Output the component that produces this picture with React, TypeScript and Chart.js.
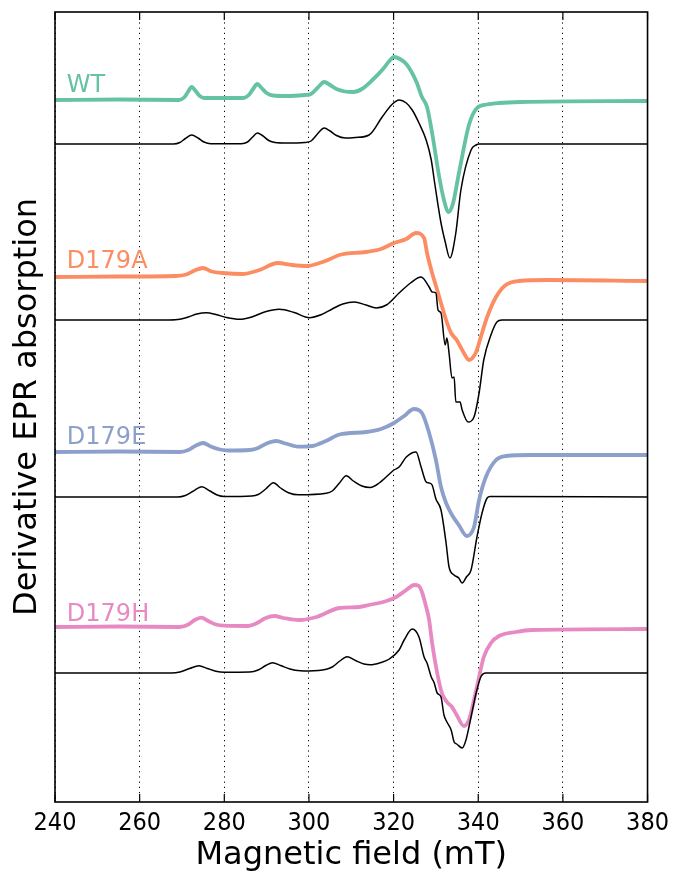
import { useEffect, useRef } from "react";
import { Chart, registerables } from "chart.js";

Chart.register(...registerables);

// Magnetic field (mT) vs. stacked derivative signal (arbitrary units, offset per sample)
const fieldMin = 240;
const fieldMax = 380;
const fieldStep = 20;
const signalMin = 0;
const signalMax = 790;

const sampleNames = ["WT", "D179A", "D179E", "D179H"];
const sampleColors = ["#66c2a5", "#fc8d62", "#8da0cb", "#e78ac3"];
const labelField = 242.8;
const labelSignal = [710, 534, 358, 181];

const wtExp: [number, number][] = [
  [240, 702], [255, 702.5], [269.3, 702], [270.5, 704.5], [271.4, 710], [272.3, 715], [273.2, 711],
  [274.2, 706], [275.3, 704], [279.6, 704], [284.5, 704], [285.8, 707], [286.8, 713], [287.8, 718],
  [288.8, 714], [290, 709], [291.5, 706.5], [294.7, 706], [299, 707], [300.5, 708], [302, 714],
  [303.6, 720], [305, 717], [306.5, 713], [308.5, 710.5], [310.5, 710], [312.5, 713], [315, 722],
  [317.5, 733], [319, 741], [320.1, 745], [321.5, 743], [323, 738], [324.5, 728], [325.5, 719],
  [326.7, 705], [327.9, 695], [329.1, 669], [330.7, 627], [331.9, 602], [333, 590], [334, 598],
  [335.4, 628], [337.8, 677], [339.7, 694], [342, 697.5], [344.9, 699], [350, 700], [380, 701],
];
const wtSim: [number, number][] = [
  [240, 658], [268, 658], [269.5, 659.5], [270.8, 663.5], [272.3, 667], [273.8, 664], [275.2, 660],
  [276.8, 658.3], [284, 658.3], [285.5, 660], [286.7, 665], [287.8, 669], [289, 666.5], [290.5, 661.5],
  [292, 659.5], [294.7, 659], [299, 659.5], [300.5, 661], [302, 668], [303.6, 674], [305, 671],
  [306.5, 666.5], [308.6, 664], [311, 664.5], [314.2, 667], [317.3, 685], [319.5, 697], [321.3, 702],
  [323, 699], [324.4, 692], [326, 679], [327.7, 662], [328.9, 642], [329.6, 622], [331.2, 579],
  [332.2, 560], [333.3, 544], [334.7, 569], [335.9, 612], [338.3, 652], [339.5, 657], [340.2, 658],
  [380, 658],
];
const d179aExp: [number, number][] = [
  [240, 525], [255, 525.5], [268.5, 526], [271, 527.5], [273, 531.5], [275, 534], [277, 530.5],
  [279.6, 529], [284.3, 528], [288.3, 532], [292.6, 539], [296, 537], [299.4, 536], [302.5, 539],
  [305, 543], [307.2, 547], [313.5, 550], [317, 553], [320.1, 559], [323, 563], [325.3, 569],
  [327.2, 564], [327.9, 549], [329.1, 529], [330.3, 512], [331.2, 499], [332.4, 482], [333.6, 469],
  [334.9, 462], [336.6, 449], [337.8, 442], [339.5, 450], [340.6, 465], [342.1, 485], [344.2, 505],
  [346.5, 517], [349.6, 521], [356.7, 522], [380, 521],
];
const d179aSim: [number, number][] = [
  [240, 482], [266, 482], [269, 482.5], [271.5, 485], [273.5, 488], [275.8, 489.3], [278, 487.5],
  [280.5, 484.5], [283.6, 482.7], [286.5, 485], [289.5, 490], [293, 492.7], [296.5, 489.5],
  [300.1, 484.3], [303, 487.5], [305.5, 493], [308, 498], [310.7, 500], [313.5, 497], [315.9, 494],
  [318.3, 497], [321.3, 509], [324, 519], [326.5, 525], [328.4, 515], [329.1, 510], [330, 509],
  [330.5, 492], [331.2, 489], [332.2, 457], [332.6, 464], [333.1, 449], [333.8, 424], [334.3, 425],
  [334.7, 400], [335.7, 400], [336.2, 392], [337.6, 380], [339, 385], [340.2, 409], [341.3, 442],
  [343, 467], [344.4, 480], [345.6, 482], [380, 482],
];
const d179eExp: [number, number][] = [
  [240, 350], [255, 350.5], [269.5, 350], [271.5, 352], [273.3, 356.5], [275, 359], [276.8, 355.5],
  [279, 352.5], [281, 351.5], [286, 352], [288, 354], [290, 358.5], [292.3, 361], [294.5, 358.5],
  [297.7, 355.3], [300.8, 356], [304, 361], [307.2, 367.5], [313.5, 370], [317, 373], [320.1, 379],
  [322.5, 386], [324.8, 393], [326.7, 389], [328.4, 369], [330, 342], [331.2, 315], [332.4, 299],
  [333.8, 287], [335.4, 277], [337.3, 266], [339, 275], [340.2, 302], [341.8, 325], [344.2, 342],
  [346.5, 346], [352.7, 347], [380, 347],
];
const d179eSim: [number, number][] = [
  [240, 305], [269, 305], [270.8, 306.5], [272.5, 310.5], [274.7, 315.3], [276.6, 311], [278.3, 307],
  [280, 305.5], [286.5, 306], [288, 307.5], [289.8, 313], [291.6, 319.3], [293.3, 314], [295.3, 309],
  [297.5, 307.2], [304.1, 308.7], [305.5, 311], [307.2, 319], [308.8, 326.3], [310.5, 321],
  [312.5, 316], [314.5, 314.5], [316.6, 319], [320.1, 332], [321.3, 335], [323, 345], [325.3, 350],
  [326.5, 335], [327.7, 320], [328.4, 319], [329.1, 317], [330, 303], [331.2, 292], [332.4, 259],
  [333.1, 235], [334.3, 227], [335.4, 224], [336.2, 219], [337.2, 225], [338.3, 232], [339.7, 265],
  [340.9, 289], [342.1, 304], [342.8, 305.5], [380, 305],
];
const d179hExp: [number, number][] = [
  [240, 175], [255, 175.5], [269.5, 175], [271.5, 177.5], [273, 182], [274.6, 184.3], [276.2, 181],
  [278, 177.5], [280, 176.3], [285.5, 176], [287.5, 178.5], [289.8, 184], [291.8, 186], [294, 184],
  [297.7, 182], [301.8, 185], [307.2, 194], [311.9, 195], [314.2, 197], [318.3, 201], [320.6, 205],
  [323, 212], [324.9, 217], [326, 216], [326.7, 210], [327.7, 195], [328.4, 182], [329.1, 159],
  [330.3, 129], [331.4, 109], [332.6, 100], [333.8, 95], [334.9, 87], [336.6, 76], [337.8, 82],
  [339, 102], [340.2, 125], [341.3, 145], [343, 159], [344.9, 166], [348.9, 170], [352.7, 172],
  [380, 173],
];
const d179hSim: [number, number][] = [
  [240, 129], [267.5, 129], [269.5, 130], [271.8, 133.5], [274, 136.3], [276, 133.5], [278, 130.8],
  [280, 129.8], [286, 130], [288, 132], [289.8, 136.5], [291.4, 139.3], [293.3, 136.5], [295.5, 133],
  [298, 131.2], [300, 131], [304.1, 132.7], [305.5, 135], [307.3, 141], [309, 145.3], [311, 141.5],
  [313, 138], [314.5, 137.2], [317, 139.5], [319, 143], [321.3, 152], [322.5, 162], [324.4, 173],
  [326, 165], [327.2, 145], [327.9, 139], [328.9, 125], [329.6, 119], [330.3, 109], [331.2, 105],
  [331.9, 87], [332.6, 80], [333.6, 72], [334.3, 60], [334.9, 58], [336.2, 54], [337.1, 62],
  [338.3, 85], [339.5, 109], [340.6, 125], [341.8, 129], [380, 129],
];

const experimental = [wtExp, d179aExp, d179eExp, d179hExp];
const simulated = [wtSim, d179aSim, d179eSim, d179hSim];

const FONT = "'DejaVu Sans', sans-serif";

const framePlugin = {
  id: "frameAndLabels",
  afterDraw(chart: any) {
    const { ctx, chartArea } = chart;
    const xs = chart.scales.x;
    const ys = chart.scales.y;
    ctx.save();
    ctx.strokeStyle = "#000";
    ctx.lineWidth = 1.2;
    for (let v = fieldMin; v <= fieldMax; v += fieldStep) {
      const px = xs.getPixelForValue(v);
      ctx.beginPath();
      ctx.moveTo(px, chartArea.bottom);
      ctx.lineTo(px, chartArea.bottom - 8);
      ctx.moveTo(px, chartArea.top);
      ctx.lineTo(px, chartArea.top + 8);
      ctx.stroke();
    }
    ctx.lineWidth = 1.6;
    ctx.strokeRect(chartArea.left, chartArea.top, chartArea.right - chartArea.left, chartArea.bottom - chartArea.top);
    ctx.font = `24px ${FONT}`;
    ctx.textAlign = "left";
    ctx.textBaseline = "alphabetic";
    sampleNames.forEach((name, i) => {
      ctx.fillStyle = sampleColors[i];
      ctx.fillText(name, xs.getPixelForValue(labelField), ys.getPixelForValue(labelSignal[i]));
    });
    ctx.restore();
  },
};

export default function App() {
  const ref = useRef<HTMLCanvasElement | null>(null);
  useEffect(() => {
    if (!ref.current) return;
    const datasets: any[] = [];
    experimental.forEach((series, i) => {
      datasets.push({
        label: sampleNames[i] + " experiment",
        data: series.map(([x, y]) => ({ x, y })),
        borderColor: sampleColors[i],
        borderWidth: 3.8,
        pointRadius: 0,
        cubicInterpolationMode: "monotone",
        fill: false,
        order: 1,
      });
    });
    simulated.forEach((series, i) => {
      datasets.push({
        label: sampleNames[i] + " simulation",
        data: series.map(([x, y]) => ({ x, y })),
        borderColor: "#000000",
        borderWidth: 1.5,
        pointRadius: 0,
        cubicInterpolationMode: "monotone",
        fill: false,
        order: 0,
      });
    });
    const chart = new Chart(ref.current, {
      type: "line",
      data: { datasets },
      plugins: [framePlugin],
      options: {
        animation: false,
        responsive: false,
        layout: { padding: { top: 12, right: 26, left: 0, bottom: 0 } },
        plugins: { legend: { display: false }, tooltip: { enabled: false } },
        scales: {
          x: {
            type: "linear",
            min: fieldMin,
            max: fieldMax,
            afterFit: (s: any) => { s.height = 73; },
            ticks: {
              stepSize: fieldStep,
              color: "#000",
              padding: 6,
              font: { family: "'DejaVu Sans Condensed', 'DejaVu Sans', sans-serif", size: 25 },
              maxRotation: 0,
              autoSkip: false,
            },
            grid: { color: "#000", lineWidth: 1, drawTicks: false },
            border: { display: false, dash: [1.2, 4] },
            title: {
              display: true,
              text: "Magnetic field (mT)",
              color: "#000",
              font: { family: FONT, size: 32 },
              padding: { top: 0, bottom: 0 },
            },
          },
          y: {
            min: signalMin,
            max: signalMax,
            afterFit: (s: any) => { s.width = 55; },
            ticks: { display: false },
            grid: { display: false, drawTicks: false },
            border: { display: false },
            title: {
              display: true,
              text: "Derivative EPR absorption",
              color: "#000",
              font: { family: FONT, size: 32 },
              padding: { top: 8, bottom: 0 },
            },
          },
        },
      } as any,
    });
    return () => chart.destroy();
  }, []);
  return (
    <div style={{ position: "absolute", left: 0, top: 0, width: 675, height: 875, background: "#fff" }}>
      <canvas ref={ref} width={675} height={875} />
    </div>
  );
}
